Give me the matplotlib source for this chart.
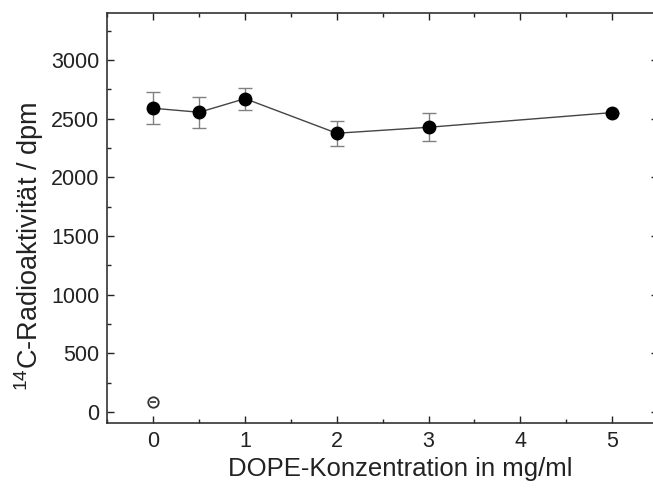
import numpy as np
import matplotlib.pyplot as plt
from matplotlib.ticker import MultipleLocator

plt.rcParams['font.family'] = ['Liberation Sans', 'DejaVu Sans']
plt.rcParams['mathtext.fontset'] = 'custom'
plt.rcParams['mathtext.rm'] = 'Liberation Sans'

# Messwerte
konz = [0, 0.5, 1, 2, 3, 5]
aktivitaet = [2588, 2554, 2670, 2375, 2426, 2551]
fehler = [135, 130, 95, 108, 120, 0]

# Kontrolle ohne DOPE
kontrolle_x = [0]
kontrolle_y = [88]

fig = plt.figure(figsize=(6.53, 4.91), dpi=100)
ax = fig.add_axes([0.1646, 0.1385, 0.843, 0.835])

ax.plot(konz, aktivitaet, color='#444444', lw=1.0, zorder=2)
ax.errorbar(konz, aktivitaet, yerr=fehler, fmt='o', color='black',
            ms=9, ecolor='#808080', elinewidth=1.0, capsize=5,
            capthick=1.0, zorder=3)
ax.plot(kontrolle_x, kontrolle_y, 'o', mfc='none', mec='#333333',
        mew=1.3, ms=7.5, zorder=3)
ax.plot(kontrolle_x, kontrolle_y, '_', color='#333333', mew=1.2, ms=5, zorder=3)

ax.set_xlim(-0.5, 5.5)
ax.set_ylim(-95, 3400)
ax.xaxis.set_major_locator(MultipleLocator(1))
ax.xaxis.set_minor_locator(MultipleLocator(0.5))
ax.yaxis.set_major_locator(MultipleLocator(500))
ax.yaxis.set_minor_locator(MultipleLocator(250))
ax.tick_params(which='both', direction='in', top=True, right=True,
               labelsize=15.5, colors='#222222', width=1.0)
ax.tick_params(which='major', length=5, pad=6)
ax.tick_params(which='minor', length=3)
for s in ax.spines.values():
    s.set_color('#333333')
    s.set_linewidth(1.2)

ax.set_xlabel('DOPE-Konzentration in mg/ml', fontsize=18.5, color='#222222')
ax.set_ylabel('$^{14}$C-Radioaktivität / dpm', fontsize=19.5, color='#222222')
ax.xaxis.set_label_coords(0.532, -0.082)
ax.yaxis.set_label_coords(-0.112, 0.43)

fig.savefig('out.png', dpi=100)
